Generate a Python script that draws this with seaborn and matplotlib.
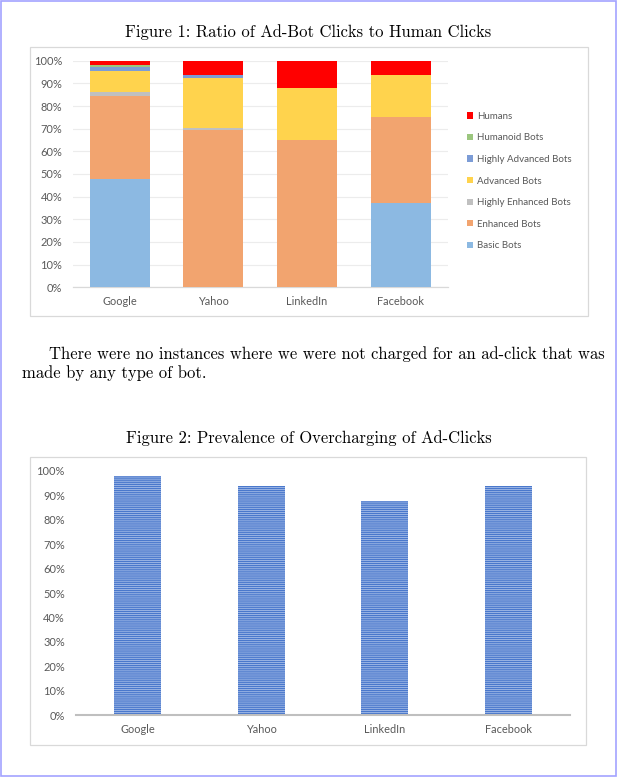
import numpy as np
import pandas as pd
import matplotlib
matplotlib.use('Agg')
import matplotlib.pyplot as plt
from matplotlib.patches import Rectangle, Patch
import seaborn as sns

# data
sites = ['Google', 'Yahoo', 'LinkedIn', 'Facebook']
layers = ['Basic Bots', 'Enhanced Bots', 'Highly Enhanced Bots', 'Advanced Bots',
          'Highly Advanced Bots', 'Humanoid Bots', 'Humans']
basic = [0.476, 0.0, 0.0, 0.374]
enhanced = [0.370, 0.694, 0.650, 0.377]
highly_enhanced = [0.016, 0.010, 0.0, 0.0]
advanced = [0.092, 0.220, 0.228, 0.186]
highly_advanced = [0.020, 0.012, 0.0, 0.0]
humanoid = [0.005, 0.002, 0.0, 0.0]
humans = [0.021, 0.062, 0.122, 0.063]

overcharged = [0.979, 0.938, 0.878, 0.940]

ylabels = ['0%', '10%', '20%', '30%', '40%', '50%', '60%', '70%', '80%', '90%', '100%']

layer_colors = ['#8cb9e2', '#f2a46f', '#c0c0c0', '#ffd34d', '#7c9cd6', '#9bc67e', '#ff0000']
grey = '#595959'
chart_font = 'Lato'

W, H = 618, 777
fig = plt.figure(figsize=(W / 100, H / 100), dpi=100)


def px_rect(x0, y0, x1, y1, **kw):
    # rectangle given in pixel coordinates from top-left
    fig.patches.append(Rectangle((x0 / W, 1 - y1 / H), (x1 - x0) / W, (y1 - y0) / H,
                                 transform=fig.transFigure, fill=False, **kw))


def px_axes(x0, y0, x1, y1):
    return fig.add_axes([x0 / W, 1 - y1 / H, (x1 - x0) / W, (y1 - y0) / H])


# page frame and chart frames
px_rect(0.5, 0.5, 616, 776, edgecolor='#a3a3ff', lw=1.2)
px_rect(29.5, 46.7, 588, 316, edgecolor='#d9d9d9', lw=0.9)
px_rect(30, 457.3, 585.7, 745, edgecolor='#d9d9d9', lw=0.9)

# ---------------- Figure 1: stacked bars ----------------
df = pd.DataFrame({'site': sites, 'Basic Bots': basic, 'Enhanced Bots': enhanced,
                   'Highly Enhanced Bots': highly_enhanced, 'Advanced Bots': advanced,
                   'Highly Advanced Bots': highly_advanced, 'Humanoid Bots': humanoid,
                   'Humans': humans})
cum = df[layers].cumsum(axis=1)

ax1 = px_axes(72.7, 60.7, 447.5, 287.3)
# draw tallest cumulative first so that lower layers sit on top
for lay, col in reversed(list(zip(layers, layer_colors))):
    sns.barplot(x=df['site'], y=cum[lay], color=col, width=0.64, linewidth=0,
                saturation=1, ax=ax1, zorder=3)
ax1.set_ylim(0, 1)
ax1.set_yticks(np.linspace(0, 1, 11))
ax1.set_yticklabels(ylabels)
ax1.set_xlabel('')
ax1.set_ylabel('')
ax1.yaxis.grid(True, color='#ececec', lw=0.8, zorder=0)
ax1.set_axisbelow(True)
for s in ['top', 'left', 'right']:
    ax1.spines[s].set_visible(False)
ax1.spines['bottom'].set_color('#d9d9d9')
ax1.spines['bottom'].set_linewidth(0.9)
ax1.tick_params(axis='both', length=0, labelcolor=grey, labelsize=7.9)
ax1.tick_params(axis='y', pad=7.5)
ax1.tick_params(axis='x', pad=6.5)
for t in ax1.get_xticklabels() + ax1.get_yticklabels():
    t.set_fontfamily(chart_font)

handles = [Patch(facecolor=c, edgecolor='none') for c in layer_colors][::-1]
leg = ax1.legend(handles, layers[::-1], loc='center left',
                 bbox_to_anchor=(467 / W, 1 - 181 / H), bbox_transform=fig.transFigure,
                 frameon=False, borderpad=0, borderaxespad=0, handlelength=0.6,
                 handleheight=0.6, handletextpad=0.45, labelspacing=1.29,
                 prop={'family': chart_font, 'size': 7})
for t in leg.get_texts():
    t.set_color(grey)

# ---------------- Figure 2: overcharging ----------------
plt.rcParams['hatch.linewidth'] = 0.9
ax2 = px_axes(76, 471, 570, 715)
sns.barplot(x=sites, y=overcharged, color='#a6bde8', width=0.378, saturation=1,
            edgecolor='#4a78cc', linewidth=0, hatch='-' * 8, ax=ax2)
ax2.set_ylim(0, 1)
ax2.set_yticks(np.linspace(0, 1, 11))
ax2.set_yticklabels(ylabels)
for s in ['top', 'left', 'right']:
    ax2.spines[s].set_visible(False)
ax2.spines['bottom'].set_color('#bfbfbf')
ax2.spines['bottom'].set_linewidth(1.5)
ax2.tick_params(axis='both', length=0, labelcolor=grey, labelsize=7.9)
ax2.tick_params(axis='y', pad=8)
ax2.tick_params(axis='x', pad=6.5)
for t in ax2.get_xticklabels() + ax2.get_yticklabels():
    t.set_fontfamily(chart_font)

# ---------------- document text ----------------
serif = 'cmr10'
fig.text(308.5 / W, 1 - 36.7 / H, 'Figure 1: Ratio of Ad-Bot Clicks to Human Clicks',
         ha='center', va='baseline', family=serif, fontsize=11.95)
fig.text(49.3 / W, 1 - 359 / H,
         'There were no instances where we were not charged for an ad-click that was',
         ha='left', va='baseline', family=serif, fontsize=11.95)
fig.text(21.7 / W, 1 - 377.7 / H, 'made by any type of bot.',
         ha='left', va='baseline', family=serif, fontsize=11.95)
fig.text(308.5 / W, 1 - 442.7 / H, 'Figure 2: Prevalence of Overcharging of Ad-Clicks',
         ha='center', va='baseline', family=serif, fontsize=11.95)

fig.savefig('out.png', dpi=100)
